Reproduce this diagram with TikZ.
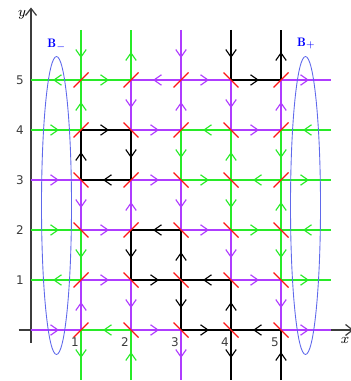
\documentclass[tikz,border=0pt]{standalone}
\usepackage{fontspec}
\usepackage{amsmath}
\usetikzlibrary{arrows.meta,decorations.markings}
\newfontfamily\tickfont{DejaVu Sans}
\definecolor{limeGreen}{RGB}{40,235,40}
\definecolor{loopPurple}{RGB}{175,60,255}
\definecolor{mirrorRed}{RGB}{255,20,20}
\definecolor{ovalBlue}{RGB}{95,105,235}
\definecolor{axisGray}{RGB}{60,60,60}

\begin{document}
\begin{tikzpicture}[x=1cm,y=1cm]
  \tikzset{
    seg/.style={color=#1, line width=0.9pt, postaction={decorate},
      decoration={markings, mark=at position 0.56 with {\arrow{Straight Barb[length=1.5mm,width=2.1mm,line width=0.65pt]}}}},
    mirr/.style={draw=mirrorRed, line width=0.75pt},
    axisline/.style={draw=axisGray, line width=1.1pt, -{Straight Barb[length=1.4mm,width=2.2mm,line width=0.7pt]}},
    ticklab/.style={inner sep=0pt, text=axisGray, font=\tickfont\fontsize{6.8}{7}\selectfont},
    axlab/.style={inner sep=0pt, font=\fontsize{8.5}{9}\selectfont},
    oval/.style={draw=ovalBlue, line width=0.5pt},
    blab/.style={inner sep=0pt, text=blue, font=\fontsize{7}{8}\selectfont}
  }

  % picture frame, same proportions as the original
  \path[use as bounding box] (-0.62,-1.02) rectangle (6.40,6.60);

  % lattice points and loose ends
  \foreach \i in {1,...,5} {
    \foreach \j in {0,...,5} {
      \coordinate (n-\i-\j) at (\i,\j);
    }
    \coordinate (b-\i) at (\i,-1);
    \coordinate (t-\i) at (\i,6);
  }
  \foreach \j in {0,...,5} {
    \coordinate (l-\j) at (0,\j);
    \coordinate (r-\j) at (6,\j);
  }

  % axes
  \coordinate (xs) at (-0.25,0);
  \coordinate (xe) at (6.45,0);
  \coordinate (ys) at (0,-0.25);
  \coordinate (ye) at (0,6.45);
  \draw[axisline] (xs) -- (xe);
  \draw[axisline] (ys) -- (ye);

  % horizontal edges, drawn in the sense of their arrow
  \foreach \s/\e/\c in {
      n-1-5/l-5/limeGreen, n-1-5/n-2-5/limeGreen, n-3-5/n-2-5/loopPurple,
      n-3-5/n-4-5/loopPurple, n-4-5/n-5-5/black, n-5-5/r-5/loopPurple,
      l-4/n-1-4/limeGreen, n-1-4/n-2-4/black, n-2-4/n-3-4/loopPurple,
      n-4-4/n-3-4/limeGreen, n-4-4/n-5-4/loopPurple, r-4/n-5-4/limeGreen,
      l-3/n-1-3/loopPurple, n-2-3/n-1-3/black, n-2-3/n-3-3/loopPurple,
      n-3-3/n-4-3/limeGreen, n-5-3/n-4-3/limeGreen, n-5-3/r-3/limeGreen,
      l-2/n-1-2/limeGreen, n-1-2/n-2-2/loopPurple, n-3-2/n-2-2/black,
      n-3-2/n-4-2/loopPurple, n-4-2/n-5-2/limeGreen, r-2/n-5-2/limeGreen,
      n-1-1/l-1/limeGreen, n-1-1/n-2-1/loopPurple, n-2-1/n-3-1/black,
      n-4-1/n-3-1/black, n-4-1/n-5-1/loopPurple, n-5-1/r-1/limeGreen,
      l-0/n-1-0/loopPurple, n-2-0/n-1-0/limeGreen, n-2-0/n-3-0/loopPurple,
      n-3-0/n-4-0/black, n-5-0/n-4-0/black, n-5-0/r-0/loopPurple}
    \draw[seg=\c] (\s) -- (\e);

  % vertical edges
  \foreach \s/\e/\c in {
      n-1-0/b-1/limeGreen, n-1-0/n-1-1/loopPurple, n-1-2/n-1-1/limeGreen,
      n-1-3/n-1-2/loopPurple, n-1-3/n-1-4/black, n-1-4/n-1-5/limeGreen, t-1/n-1-5/limeGreen,
      b-2/n-2-0/limeGreen, n-2-1/n-2-0/loopPurple, n-2-2/n-2-1/black,
      n-2-2/n-2-3/loopPurple, n-2-4/n-2-3/black, n-2-5/n-2-4/loopPurple, n-2-5/t-2/limeGreen,
      n-3-0/b-3/loopPurple, n-3-1/n-3-0/black, n-3-1/n-3-2/black,
      n-3-3/n-3-2/loopPurple, n-3-4/n-3-3/limeGreen, n-3-4/n-3-5/loopPurple, t-3/n-3-5/loopPurple,
      n-4-0/b-4/black, n-4-0/n-4-1/black, n-4-2/n-4-1/loopPurple,
      n-4-3/n-4-2/limeGreen, n-4-3/n-4-4/limeGreen, n-4-5/n-4-4/loopPurple, t-4/n-4-5/black,
      b-5/n-5-0/black, n-5-1/n-5-0/loopPurple, n-5-2/n-5-1/limeGreen,
      n-5-2/n-5-3/limeGreen, n-5-4/n-5-3/limeGreen, n-5-4/n-5-5/loopPurple, n-5-5/t-5/black}
    \draw[seg=\c] (\s) -- (\e);

  % mirrors at the lattice points
  \foreach \v in {1-5,2-5,3-5,5-5,1-4,3-4,5-4,2-3,5-3,2-2,1-1,1-0}
    \draw[mirr] (n-\v) +(-0.15,-0.15) -- +(0.15,0.15);
  \foreach \v in {4-5,2-4,4-4,1-3,3-3,4-3,1-2,3-2,4-2,5-2,2-1,3-1,4-1,5-1,2-0,3-0,4-0,5-0}
    \draw[mirr] (n-\v) +(-0.15,0.15) -- +(0.15,-0.15);

  % boundary sets
  \coordinate (bm) at (0.51,2.49);
  \coordinate (bp) at (5.49,2.49);
  \draw[oval] (bm) ellipse [x radius=0.3, y radius=2.98];
  \draw[oval] (bp) ellipse [x radius=0.3, y radius=2.98];
  \node[blab] (bminus) at (0.52,5.7) {$\mathbf{B}_-$};
  \node[blab] (bplus) at (5.51,5.73) {$\mathbf{B}_+$};

  % axis labels
  \foreach \i in {1,...,5}
    \node[ticklab, anchor=north] (xt-\i) at (\i-0.12,-0.15) {\i};
  \foreach \j in {1,...,5}
    \node[ticklab, anchor=east] (yt-\j) at (-0.14,\j) {\j};
  \node[axlab] (xlab) at (6.28,-0.2) {$x$};
  \node[axlab] (ylab) at (-0.18,6.3) {$y$};

\end{tikzpicture}
\end{document}
